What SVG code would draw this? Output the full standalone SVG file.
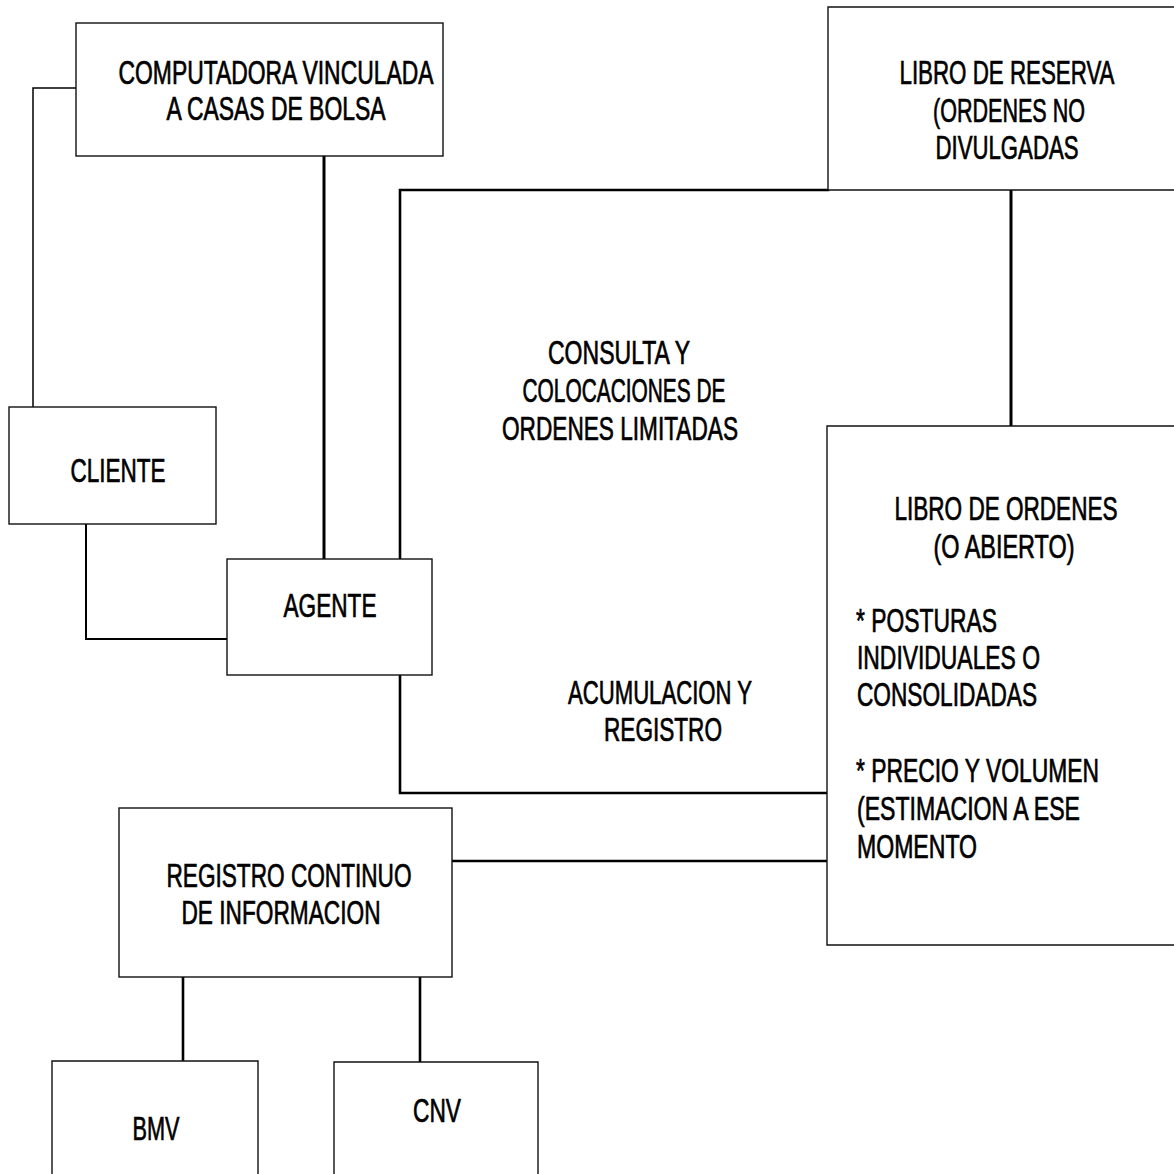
<svg xmlns="http://www.w3.org/2000/svg" width="1174" height="1174" viewBox="0 0 1174 1174">
<style>
.box{fill:#fff;stroke:#111;stroke-width:1.4}
.c{fill:none;stroke:#000;stroke-linecap:square}
.t{font-family:"Liberation Sans","Arial",sans-serif;font-size:33px;fill:#000;stroke:#000;stroke-width:0.7}
.m{text-anchor:middle}
</style>
<rect width="1174" height="1174" fill="#fff"/>
<g id="connectors">
<path class="c" d="M76,88 H33 V407" stroke-width="1.5"/>
<path class="c" d="M86,524 V639 H227" stroke-width="2"/>
<path class="c" d="M324,156 V559" stroke-width="3"/>
<path class="c" d="M828,190 H400 V559 M400,675 V793 H827" stroke-width="2.6"/>
<path class="c" d="M1011,190 V426" stroke-width="3"/>
<path class="c" d="M452,861 H827" stroke-width="2.6"/>
<path class="c" d="M183,977 V1061 M420,977 V1062" stroke-width="2.6"/>
</g>
<g id="computadora">
<rect class="box" x="76" y="23" width="367" height="133"/>
<text class="t m" x="276" y="84" textLength="315" lengthAdjust="spacingAndGlyphs">COMPUTADORA VINCULADA</text>
<text class="t m" x="276" y="120" textLength="219" lengthAdjust="spacingAndGlyphs">A CASAS DE BOLSA</text>
</g>
<g id="reserva">
<path class="box" d="M1174,7 H828 V190 H1174" fill="none"/>
<text class="t m" x="1007" y="84" textLength="215" lengthAdjust="spacingAndGlyphs">LIBRO DE RESERVA</text>
<text class="t m" x="1009" y="122" textLength="152" lengthAdjust="spacingAndGlyphs">(ORDENES NO</text>
<text class="t m" x="1007" y="159" textLength="143" lengthAdjust="spacingAndGlyphs">DIVULGADAS</text>
</g>
<g id="consulta">
<text class="t m" x="619" y="364" textLength="142" lengthAdjust="spacingAndGlyphs">CONSULTA Y</text>
<text class="t m" x="624" y="402" textLength="203" lengthAdjust="spacingAndGlyphs">COLOCACIONES DE</text>
<text class="t m" x="620" y="440" textLength="236" lengthAdjust="spacingAndGlyphs">ORDENES LIMITADAS</text>
<text class="t m" x="660" y="704" textLength="184" lengthAdjust="spacingAndGlyphs">ACUMULACION Y</text>
<text class="t m" x="663" y="741" textLength="118" lengthAdjust="spacingAndGlyphs">REGISTRO</text>
</g>
<g id="cliente">
<rect class="box" x="9" y="407" width="207" height="117"/>
<text class="t m" x="118" y="482" textLength="95" lengthAdjust="spacingAndGlyphs">CLIENTE</text>
</g>
<g id="agente">
<rect class="box" x="227" y="559" width="205" height="116"/>
<text class="t m" x="330" y="617" textLength="93" lengthAdjust="spacingAndGlyphs">AGENTE</text>
</g>
<g id="ordenes">
<path class="box" d="M1174,426 H827 V945 H1174" fill="none"/>
<text class="t m" x="1006" y="520" textLength="223" lengthAdjust="spacingAndGlyphs">LIBRO DE ORDENES</text>
<text class="t m" x="1004" y="558" textLength="141" lengthAdjust="spacingAndGlyphs">(O ABIERTO)</text>
<text class="t" x="856" y="632" textLength="141" lengthAdjust="spacingAndGlyphs">* POSTURAS</text>
<text class="t" x="857" y="669" textLength="183" lengthAdjust="spacingAndGlyphs">INDIVIDUALES O</text>
<text class="t" x="857" y="706" textLength="180" lengthAdjust="spacingAndGlyphs">CONSOLIDADAS</text>
<text class="t" x="856" y="782" textLength="243" lengthAdjust="spacingAndGlyphs">* PRECIO Y VOLUMEN</text>
<text class="t" x="857" y="820" textLength="223" lengthAdjust="spacingAndGlyphs">(ESTIMACION A ESE</text>
<text class="t" x="857" y="858" textLength="120" lengthAdjust="spacingAndGlyphs">MOMENTO</text>
</g>
<g id="registro">
<rect class="box" x="119" y="808" width="333" height="169"/>
<text class="t m" x="289" y="887" textLength="245" lengthAdjust="spacingAndGlyphs">REGISTRO CONTINUO</text>
<text class="t m" x="281" y="924" textLength="199" lengthAdjust="spacingAndGlyphs">DE INFORMACION</text>
</g>
<g id="bmv">
<path class="box" d="M52,1174 V1061 H258 V1174" fill="none"/>
<text class="t m" x="156" y="1140" textLength="47" lengthAdjust="spacingAndGlyphs">BMV</text>
</g>
<g id="cnv">
<path class="box" d="M334,1174 V1062 H538 V1174" fill="none"/>
<text class="t m" x="437" y="1122" textLength="48" lengthAdjust="spacingAndGlyphs">CNV</text>
</g>
</svg>
